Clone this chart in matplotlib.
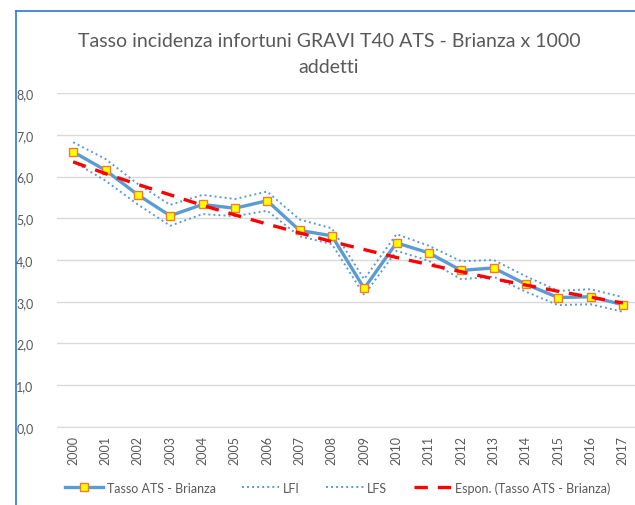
import matplotlib
matplotlib.use("Agg")
import matplotlib.pyplot as plt
from matplotlib.lines import Line2D
from matplotlib.ticker import FuncFormatter

years = [str(y) for y in range(2000, 2018)]
tasso = [6.59, 6.15, 5.56, 5.06, 5.33, 5.24, 5.42, 4.71, 4.58,
         3.32, 4.41, 4.17, 3.75, 3.81, 3.42, 3.10, 3.12, 2.93]
lfi = [6.36, 5.90, 5.33, 4.82, 5.10, 5.05, 5.18, 4.57, 4.38,
       3.16, 4.22, 3.98, 3.54, 3.60, 3.24, 2.92, 2.94, 2.76]
lfs = [6.82, 6.42, 5.82, 5.32, 5.56, 5.46, 5.64, 4.97, 4.76,
       3.54, 4.62, 4.34, 3.97, 4.00, 3.61, 3.26, 3.30, 3.11]
trend = [6.35, 6.07, 5.81, 5.56, 5.31, 5.08, 4.86, 4.65, 4.44,
         4.25, 4.06, 3.89, 3.72, 3.55, 3.40, 3.25, 3.11, 2.97]

plt.rcParams['font.family'] = ['Lato', 'DejaVu Sans']
blue = '#5B9BD5'
grey = '#595959'

fig = plt.figure(figsize=(6.35, 5.06), dpi=100)
ax = fig.add_axes([0.0898, 0.1542, 0.9165, 0.66])

x = list(range(len(years)))
ax.plot(x, lfi, color=blue, lw=1.4, ls=(0, (1, 1.6)), label='LFI', zorder=2)
ax.plot(x, lfs, color=blue, lw=1.4, ls=(0, (1, 1.6)), label='LFS', zorder=2)
ax.plot(x, tasso, color=blue, lw=2.4, marker='s', ms=6.3,
        mfc='#FFFF00', mec='#ED7D31', mew=1.0, label='Tasso ATS - Brianza', zorder=3)
ax.plot(x, trend, color='#FF0000', lw=2.4, ls=(0, (4, 3)),
        label='Espon. (Tasso ATS - Brianza)', zorder=4)

ax.set_xlim(-0.5, 17.5)
ax.set_ylim(0, 8)
ax.set_yticks([0, 1, 2, 3, 4, 5, 6, 7, 8])
ax.yaxis.set_major_formatter(FuncFormatter(lambda v, p: f"{v:.1f}".replace('.', ',')))
ax.set_xticks(x)
ax.set_xticklabels(years, rotation=90)
ax.grid(axis='y', color='#D9D9D9', lw=1)
ax.set_axisbelow(True)
for s in ['top', 'right', 'left']:
    ax.spines[s].set_visible(False)
ax.spines['bottom'].set_color('#D9D9D9')
ax.tick_params(length=0, colors=grey, labelsize=9)
ax.tick_params(axis='y', pad=17)
ax.tick_params(axis='x', pad=6)

handles, labels = ax.get_legend_handles_labels()
order = [2, 0, 1, 3]
fig.legend([handles[i] for i in order], [labels[i] for i in order],
           loc='center', bbox_to_anchor=(0.532, 0.035), ncol=4, frameon=False,
           fontsize=9, labelcolor=grey, handlelength=3.0, columnspacing=2.1,
           handletextpad=0.3)

fig.text(0.518, 0.918, 'Tasso incidenza infortuni GRAVI T40 ATS - Brianza x 1000',
         ha='center', va='center', fontsize=14, color=grey)
fig.text(0.518, 0.867, 'addetti', ha='center', va='center', fontsize=14, color=grey)

# chart frame (only top and left edges visible)
fig.add_artist(Line2D([16 / 635, 16 / 635], [0, 1 - 12 / 506],
                      transform=fig.transFigure, color='#2E75D6', lw=1.2))
fig.add_artist(Line2D([16 / 635, 1], [1 - 12 / 506, 1 - 12 / 506],
                      transform=fig.transFigure, color='#2E75D6', lw=1.2))

fig.savefig('out.png', dpi=100, facecolor='white')
